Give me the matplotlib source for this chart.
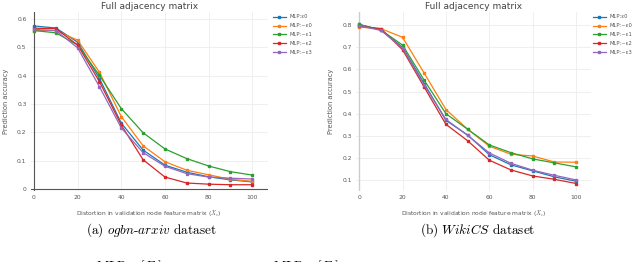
import matplotlib
matplotlib.use('Agg')
import matplotlib.pyplot as plt

plt.rcParams['mathtext.fontset'] = 'cm'

distortion = [0, 10, 20, 30, 40, 50, 60, 70, 80, 90, 100]
labels = ['MLP:ε0', 'MLP:~ε0', 'MLP:~ε1', 'MLP:~ε2', 'MLP:~ε3']
colors = ['#1f77b4', '#ff7f0e', '#2ca02c', '#d62728', '#9467bd']

# ogbn-arxiv
arxiv_e0 = [0.575, 0.568, 0.518, 0.390, 0.233, 0.138, 0.085, 0.060, 0.044, 0.033, 0.026]
arxiv_ne0 = [0.559, 0.559, 0.525, 0.412, 0.256, 0.153, 0.097, 0.067, 0.051, 0.035, 0.028]
arxiv_ne1 = [0.559, 0.551, 0.508, 0.401, 0.284, 0.199, 0.142, 0.108, 0.082, 0.062, 0.050]
arxiv_ne2 = [0.567, 0.566, 0.508, 0.379, 0.226, 0.104, 0.043, 0.022, 0.018, 0.016, 0.016]
arxiv_ne3 = [0.563, 0.559, 0.498, 0.361, 0.216, 0.129, 0.081, 0.055, 0.043, 0.039, 0.036]

# WikiCS
wiki_e0 = [0.803, 0.778, 0.700, 0.536, 0.370, 0.304, 0.215, 0.169, 0.142, 0.115, 0.095]
wiki_ne0 = [0.791, 0.784, 0.745, 0.583, 0.419, 0.330, 0.253, 0.217, 0.209, 0.182, 0.181]
wiki_ne1 = [0.803, 0.778, 0.710, 0.551, 0.400, 0.330, 0.259, 0.224, 0.196, 0.178, 0.160]
wiki_ne2 = [0.795, 0.784, 0.689, 0.520, 0.352, 0.278, 0.190, 0.146, 0.119, 0.104, 0.085]
wiki_ne3 = [0.797, 0.776, 0.697, 0.529, 0.374, 0.302, 0.223, 0.176, 0.145, 0.122, 0.101]

arxiv = [arxiv_e0, arxiv_ne0, arxiv_ne1, arxiv_ne2, arxiv_ne3]
wiki = [wiki_e0, wiki_ne0, wiki_ne1, wiki_ne2, wiki_ne3]


def draw_panel(fig, ax, series, yticks, ylim, show_yzero, legend_x):
    for vals, lab, col in zip(series, labels, colors):
        ax.plot(distortion, vals, color=col, lw=0.9, marker='s', ms=1.8, label=lab)
    ax.set_xlim(-1.5, 107)
    ax.set_ylim(*ylim)
    ax.set_xticks([0, 20, 40, 60, 80, 100])
    ax.set_yticks(yticks)
    ax.set_yticklabels(['0' if t == 0 else '{:.1f}'.format(t) for t in yticks])
    ax.grid(True, color='#ececec', lw=0.6)
    ax.set_axisbelow(True)
    for s in ax.spines.values():
        s.set_visible(False)
    ax.tick_params(length=0, labelsize=4.3, colors='#555555', pad=3)
    if show_yzero:
        ax.axhline(0, color='#555555', lw=0.8, zorder=1)
        ax.axvline(0, color='#555555', lw=0.8, zorder=1)
    else:
        ax.axvline(0, color='#cccccc', lw=1.0, zorder=1)
    ax.set_title('Full adjacency matrix', fontsize=6.5, color='#444444', pad=2)
    ax.set_ylabel('Prediction accuracy', fontsize=4.8, color='#555555', labelpad=6)
    ax.set_xlabel(r'Distortion in validation node feature matrix ($X_c$)', fontsize=4.3,
                  color='#555555', labelpad=6)
    ax.legend(loc='upper left', bbox_to_anchor=(legend_x, 0.945), bbox_transform=fig.transFigure,
              frameon=False, fontsize=3.8, handlelength=2.5, handletextpad=0.7,
              labelspacing=0.75, borderpad=0, borderaxespad=0, labelcolor='#555555')


fig = plt.figure(figsize=(6.4, 2.62), dpi=100)
ax1 = fig.add_axes([0.048, 0.27, 0.37, 0.685])
ax2 = fig.add_axes([0.556, 0.27, 0.368, 0.685])

draw_panel(fig, ax1, arxiv, [0, 0.1, 0.2, 0.3, 0.4, 0.5, 0.6], (-0.007, 0.625), True, 0.426)
draw_panel(fig, ax2, wiki, [0.1, 0.2, 0.3, 0.4, 0.5, 0.6, 0.7, 0.8], (0.05, 0.86), False, 0.926)

fig.text(0.236, 0.122, r'(a) $\mathit{ogbn}$-$\mathit{arxiv}$ dataset', fontsize=9.5,
         family='cmr10', ha='center', va='center')
fig.text(0.747, 0.122, r'(b) $\mathit{WikiCS}$ dataset', fontsize=9.5,
         family='cmr10', ha='center', va='center')

# next caption line, cut off at the bottom edge of the page crop
fig.text(0.15, -0.052, r'$\mathrm{MLP}_F\ \ [F_\epsilon]$', fontsize=9.5, ha='left', va='bottom')
fig.text(0.427, -0.052, r'$\mathrm{MLP}_F\ \ [F_\epsilon]$', fontsize=9.5, ha='left', va='bottom')

fig.savefig('out.png', dpi=100)
